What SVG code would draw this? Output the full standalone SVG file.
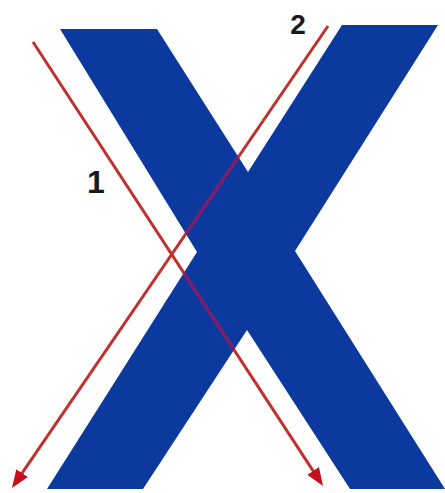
<svg xmlns="http://www.w3.org/2000/svg" width="445" height="493" viewBox="0 0 445 493">
  <style>
    .arrow { fill: none; stroke: #c0302c; stroke-width: 3; }
    .arrow-over { fill: none; stroke: #7a1f70; stroke-width: 3.5; }
    .label { font-family: "Liberation Sans", Arial, sans-serif; font-weight: bold; font-size: 28px; fill: #1a1a1a; text-anchor: middle; }
  </style>
  <defs>
    <marker id="head" markerUnits="userSpaceOnUse" markerWidth="20" markerHeight="16" refX="8" refY="7" orient="auto">
      <path d="M0,0 L18,7 L0,14 z" fill="#c8101c"/>
    </marker>
    <clipPath id="xclip">
      <polygon points="60,29 157,29 248,172 342,25 438,25 295,251 445,489 350,489 247,330 143,489 47,489 197,252"/>
    </clipPath>
  </defs>
  <rect width="445" height="493" fill="#ffffff"/>
  <g id="letter-x">
    <polygon points="60,29 157,29 248,172 342,25 438,25 295,251 445,489 350,489 247,330 143,489 47,489 197,252" fill="#0b399e"/>
  </g>
  <g id="connectors">
    <line id="arrow-1" class="arrow" x1="33" y1="42" x2="317.5" y2="477.6" marker-end="url(#head)"/>
    <line id="arrow-2" class="arrow" x1="328" y1="26" x2="17.6" y2="479.7" marker-end="url(#head)"/>
    <g clip-path="url(#xclip)">
      <line class="arrow-over" x1="33" y1="42" x2="317.5" y2="477.6"/>
      <line class="arrow-over" x1="328" y1="26" x2="17.6" y2="479.7"/>
    </g>
  </g>
  <g id="label-1">
    <text class="label" x="96" y="193" style="font-size:32px">1</text>
  </g>
  <g id="label-2">
    <text class="label" x="298" y="34">2</text>
  </g>
</svg>
